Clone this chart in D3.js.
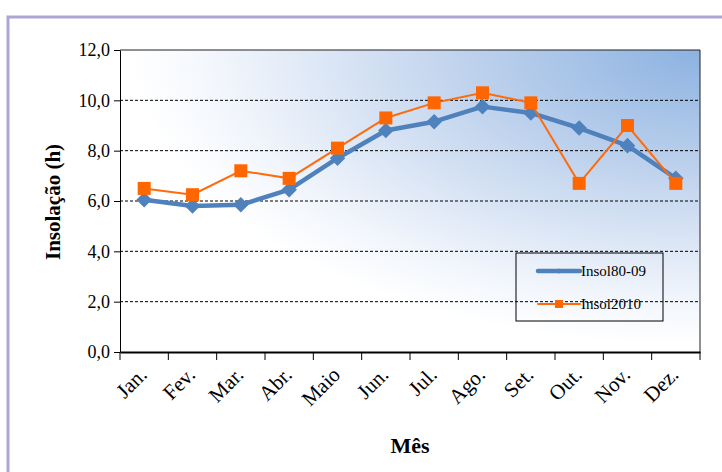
<!DOCTYPE html>
<html>
<head>
<meta charset="utf-8">
<script src="https://cdn.jsdelivr.net/npm/d3@7"></script>
<style>
  body { margin: 0; background: #fff; }
  svg { display: block; }
  svg text { font-family: "Liberation Serif", "Times New Roman", "DejaVu Serif", serif; fill: #000; }
</style>
</head>
<body>
<svg id="chart"></svg>
<script>
const months = ["Jan.", "Fev.", "Mar.", "Abr.", "Maio", "Jun.", "Jul.", "Ago.", "Set.", "Out.", "Nov.", "Dez."];
const insol8009 = [6.05, 5.8, 5.85, 6.45, 7.7, 8.8, 9.15, 9.75, 9.5, 8.9, 8.2, 6.9];
const insol2010 = [6.5, 6.25, 7.2, 6.9, 8.1, 9.3, 9.9, 10.3, 9.9, 6.7, 9.0, 6.7];
const yTicks = [0, 2, 4, 6, 8, 10, 12];

const width = 722, height = 472;
const margin = { top: 50, right: 22, bottom: 120, left: 120 };
const innerWidth = width - margin.left - margin.right;
const innerHeight = height - margin.top - margin.bottom;

const svgRef = d3.select("#chart").attr("width", width).attr("height", height);

// outer frame
svgRef.append("rect")
  .attr("x", 8).attr("y", 17)
  .attr("width", width + 20).attr("height", height + 20)
  .attr("fill", "none")
  .attr("stroke", "#aba6d6")
  .attr("stroke-width", 3);

// plot background gradient (from top-right corner)
const defs = svgRef.append("defs");
const grad = defs.append("radialGradient")
  .attr("id", "bg")
  .attr("cx", 1).attr("cy", 0).attr("r", 0.98)
  .attr("fx", 1).attr("fy", 0);
grad.append("stop").attr("offset", "0%").attr("stop-color", "#8cb2e1");
grad.append("stop").attr("offset", "45%").attr("stop-color", "#c3d5ee");
grad.append("stop").attr("offset", "85%").attr("stop-color", "#f2f6fc");
grad.append("stop").attr("offset", "100%").attr("stop-color", "#ffffff");

const svg = svgRef.append("g")
  .attr("transform", `translate(${margin.left}, ${margin.top})`);

const xScale = d3.scaleBand().domain(months).range([0, innerWidth]);
const yScale = d3.scaleLinear().domain([0, 12]).range([innerHeight, 0]);

svg.append("rect")
  .attr("width", innerWidth).attr("height", innerHeight)
  .attr("fill", "url(#bg)");

// gridlines
svg.append("g")
  .selectAll("line")
  .data(yTicks.filter(d => d > 0 && d < 12))
  .join("line")
  .attr("x1", 0).attr("x2", innerWidth)
  .attr("y1", d => yScale(d)).attr("y2", d => yScale(d))
  .attr("stroke", "#000")
  .attr("stroke-width", 1)
  .attr("stroke-dasharray", "3,2");

// top and right border
svg.append("line").attr("x1", 0).attr("x2", innerWidth).attr("y1", 0).attr("y2", 0)
  .attr("stroke", "#222").attr("stroke-width", 1);
svg.append("line").attr("x1", innerWidth).attr("x2", innerWidth).attr("y1", 0).attr("y2", innerHeight)
  .attr("stroke", "#222").attr("stroke-width", 1);

// y axis
const yAxis = svg.append("g")
  .call(d3.axisLeft(yScale).tickValues(yTicks).tickSize(6).tickSizeOuter(0)
    .tickFormat(d => d3.format(".1f")(d).replace(".", ",")));
yAxis.select(".domain").attr("stroke", "#000");
yAxis.selectAll("text")
  .attr("font-size", 18).attr("dx", -1);

// x axis (boundary ticks drawn separately)
const xAxis = svg.append("g")
  .attr("transform", `translate(0, ${innerHeight})`)
  .call(d3.axisBottom(xScale).tickSize(0).tickFormat(""));
xAxis.select(".domain").attr("stroke", "#000").attr("stroke-width", 2);
xAxis.selectAll(".tick").remove();

const bounds = months.map(m => xScale(m)).concat([innerWidth]);
svg.append("g")
  .selectAll("line")
  .data(bounds)
  .join("line")
  .attr("x1", d => d).attr("x2", d => d)
  .attr("y1", innerHeight).attr("y2", innerHeight + 8)
  .attr("stroke", "#000");

svg.append("g")
  .selectAll("text")
  .data(months)
  .join("text")
  .attr("transform", d => `translate(${xScale(d) + xScale.bandwidth() / 2 + 4}, ${innerHeight + 24}) rotate(-45)`)
  .attr("text-anchor", "end")
  .attr("font-size", 21)
  .text(d => d);

// axis titles
svgRef.append("text")
  .attr("transform", `translate(60, 202) rotate(-90)`)
  .attr("text-anchor", "middle")
  .attr("font-weight", "bold")
  .attr("font-size", 21)
  .text("Insolação (h)");

svgRef.append("text")
  .attr("x", margin.left + innerWidth / 2).attr("y", 453)
  .attr("text-anchor", "middle")
  .attr("font-weight", "bold")
  .attr("font-size", 22)
  .text("Mês");

const cx = (d, i) => xScale(months[i]) + xScale.bandwidth() / 2;
const line = d3.line().x((d, i) => cx(d, i)).y(d => yScale(d));

// blue series
svg.append("path")
  .datum(insol8009)
  .attr("fill", "none")
  .attr("stroke", "#4f81bd")
  .attr("stroke-width", 4.5)
  .attr("stroke-linejoin", "round")
  .attr("d", line);

svg.append("g")
  .selectAll("path")
  .data(insol8009)
  .join("path")
  .attr("transform", (d, i) => `translate(${cx(d, i)}, ${yScale(d)}) rotate(45)`)
  .attr("d", "M-5.5,-5.5H5.5V5.5H-5.5Z")
  .attr("fill", "#4f81bd");

// orange series
svg.append("path")
  .datum(insol2010)
  .attr("fill", "none")
  .attr("stroke", "#ff6a0a")
  .attr("stroke-width", 2)
  .attr("d", line);

svg.append("g")
  .selectAll("rect")
  .data(insol2010)
  .join("rect")
  .attr("x", (d, i) => cx(d, i) - 6.5)
  .attr("y", d => yScale(d) - 6.5)
  .attr("width", 13).attr("height", 13)
  .attr("fill", "#ff6600");

// legend
const legend = svgRef.append("g").attr("transform", "translate(516, 253)");
legend.append("rect")
  .attr("width", 147).attr("height", 68)
  .attr("fill", "none").attr("stroke", "#000").attr("stroke-width", 1);

const legendItems = [
  { name: "Insol80-09", color: "#4f81bd", width: 4.5, y: 18 },
  { name: "Insol2010", color: "#ff6a0a", width: 2, y: 51 }
];
legendItems.forEach((it, k) => {
  legend.append("line")
    .attr("x1", 22).attr("x2", 64).attr("y1", it.y).attr("y2", it.y)
    .attr("stroke", it.color).attr("stroke-width", it.width).attr("stroke-linecap", "round");
  if (k === 0) {
    legend.append("path")
      .attr("transform", `translate(43, ${it.y}) rotate(45)`)
      .attr("d", "M-2,-2H2V2H-2Z").attr("fill", it.color);
  } else {
    legend.append("rect")
      .attr("x", 39).attr("y", it.y - 4).attr("width", 8).attr("height", 8)
      .attr("fill", "#ff6600");
  }
  legend.append("text")
    .attr("x", 65).attr("y", it.y + 5)
    .attr("font-size", 15)
    .text(it.name);
});
</script>
</body>
</html>
